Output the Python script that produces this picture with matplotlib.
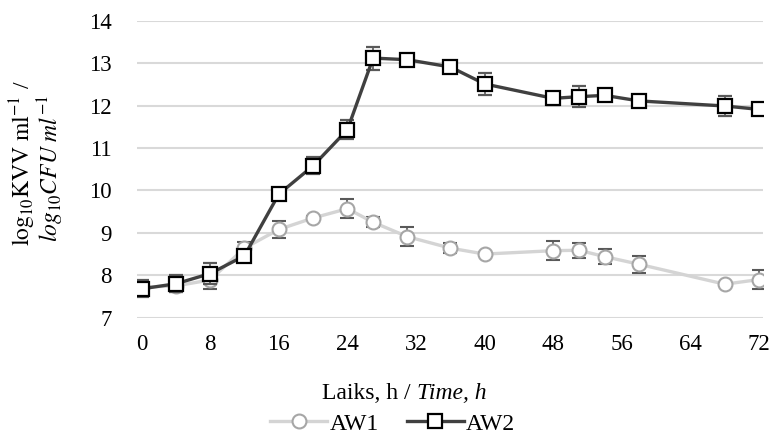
import matplotlib
matplotlib.use("Agg")
import matplotlib.pyplot as plt
from matplotlib.lines import Line2D

plt.rcParams['font.family'] = ['Liberation Serif', 'DejaVu Serif']
plt.rcParams['mathtext.fontset'] = 'stix'

hours = [0, 4, 8, 12, 16, 20, 24, 27, 31, 36, 40, 48, 51, 54, 58, 68, 72]
aw1 = [7.72, 7.75, 7.89, 8.64, 9.08, 9.35, 9.57, 9.25, 8.91, 8.64, 8.50, 8.58, 8.59, 8.44, 8.26, 7.79, 7.90]
aw1_err = [0.10, 0.15, 0.22, 0.15, 0.20, 0.05, 0.22, 0.12, 0.22, 0.12, 0.05, 0.22, 0.18, 0.18, 0.20, 0.05, 0.22]
aw2 = [7.68, 7.80, 8.04, 8.46, 9.91, 10.58, 11.43, 13.12, 13.08, 12.91, 12.51, 12.17, 12.21, 12.24, 12.11, 11.99, 11.91]
aw2_err = [0.20, 0.20, 0.24, 0.12, 0.08, 0.20, 0.22, 0.27, 0.05, 0.15, 0.25, 0.15, 0.24, 0.05, 0.08, 0.24, 0.05]

xticks = [0, 8, 16, 24, 32, 40, 48, 56, 64, 72]
yticks = [7, 8, 9, 10, 11, 12, 13, 14]

fig = plt.figure(figsize=(7.73, 4.36), dpi=100)
ax = fig.add_axes([0.177, 0.2713, 0.81, 0.6812])

c1_line = '#d4d4d4'
c1_mark = '#a6a6a6'
c2_line = '#404040'
err_c = '#595959'

ax.errorbar(hours, aw1, yerr=aw1_err, color=c1_line, lw=2.4, marker='o', ms=10,
            mfc='white', mec=c1_mark, mew=1.5, ecolor=err_c, elinewidth=1.2,
            capsize=5, capthick=1.5, zorder=3)
ax.errorbar(hours, aw2, yerr=aw2_err, color=c2_line, lw=2.4, marker='s', ms=10.5,
            mfc='white', mec='black', mew=1.6, ecolor=err_c, elinewidth=1.2,
            capsize=5, capthick=1.5, zorder=4)

ax.set_xlim(-0.55, 72.45)
ax.set_ylim(7, 14)
ax.set_xticks(xticks)
ax.set_yticks(yticks)
ax.grid(axis='y', color='#d9d9d9', lw=1.5, zorder=0)
ax.set_axisbelow(True)
for s in ax.spines.values():
    s.set_visible(False)
ax.tick_params(length=0, labelsize=16.5, colors='black')
ax.tick_params(axis='x', pad=12)
ax.tick_params(axis='y', pad=18)

fig.text(0.539, 0.098, 'Laiks, h / ', ha='right', va='center', fontsize=17)
fig.text(0.539, 0.098, 'Time, h', ha='left', va='center', fontsize=17, style='italic')

fig.text(0.030, 0.626, r'$\mathrm{log_{10}KVV\ ml^{-1}}$ /', rotation=90,
         ha='center', va='center', fontsize=17)
fig.text(0.066, 0.614, r'$log_{10}CFU\ ml^{-1}$', rotation=90,
         ha='center', va='center', fontsize=17)

handles = [
    Line2D([], [], color=c1_line, lw=2.4, marker='o', ms=10, mfc='white', mec=c1_mark, mew=1.5),
    Line2D([], [], color=c2_line, lw=2.4, marker='s', ms=10.5, mfc='white', mec='black', mew=1.6),
]
fig.legend(handles, ['AW1', 'AW2'], loc='center', bbox_to_anchor=(0.508, 0.028), ncol=2,
           frameon=False, fontsize=17, handlelength=2.4, handletextpad=0.1,
           columnspacing=1.2)

fig.savefig('out.png', dpi=100)
